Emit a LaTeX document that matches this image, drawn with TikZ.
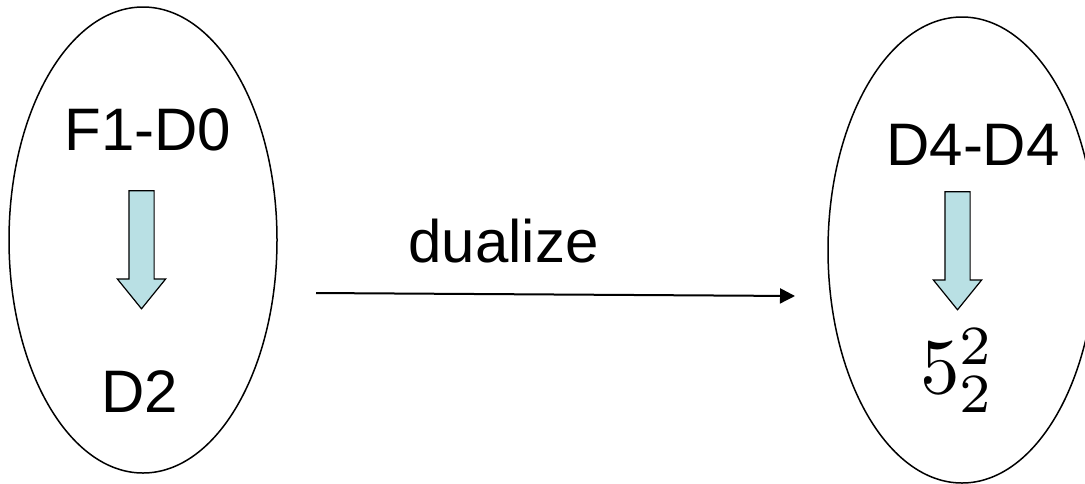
\documentclass[tikz,border=0pt]{standalone}
\usepackage{fontspec}
\setmainfont{Liberation Sans}
\usetikzlibrary{arrows.meta,positioning,shapes.geometric,shapes.arrows}
\definecolor{flowfill}{RGB}{185,224,228}

\begin{document}
\begin{tikzpicture}[x=0.5pt, y=-0.5pt,
  brane/.style={draw, ellipse, line width=0.75pt, minimum width=134pt, minimum height=233pt, inner sep=0pt},
  lbl/.style={font=\fontsize{30}{36}\selectfont, inner sep=0pt, anchor=base},
  flow/.style={draw, single arrow, fill=flowfill, line width=0.6pt, shape border rotate=270, inner sep=6pt, minimum height=59pt, single arrow head extend=5.75pt, single arrow tip angle=78},
  edge/.style={-{Triangle[length=7.5pt,width=7.5pt]}, line width=1pt}
]
\useasboundingbox (0,0) rectangle (1085,483);
\clip (0,0) rectangle (1085,483);

% left side
\node[brane] (before) at (143,240) {};
\node[lbl] (f1d0) at (148,150) {F1-D0};
\node[flow] (down1) at (141.5,242) {};
\node[lbl] (d2) at (139.5,412) {D2};

% right side
\node[brane] (after) at (962,250) {};
\node[lbl] (d4d4) at (973,165) {D4-D4};
\node[flow] (down2) at (957.5,243) {};
\node[lbl, font=\normalsize] (exotic) at (957.5,393) {\scalebox{3.95}{$5^2_2$}};

% duality map
\coordinate (mapfrom) at (316,293);
\coordinate (mapto) at (795,296);
\draw[edge] (mapfrom) -- (mapto);
\node[lbl] (dual) at (503.5,262) {dualize};
\end{tikzpicture}
\end{document}
